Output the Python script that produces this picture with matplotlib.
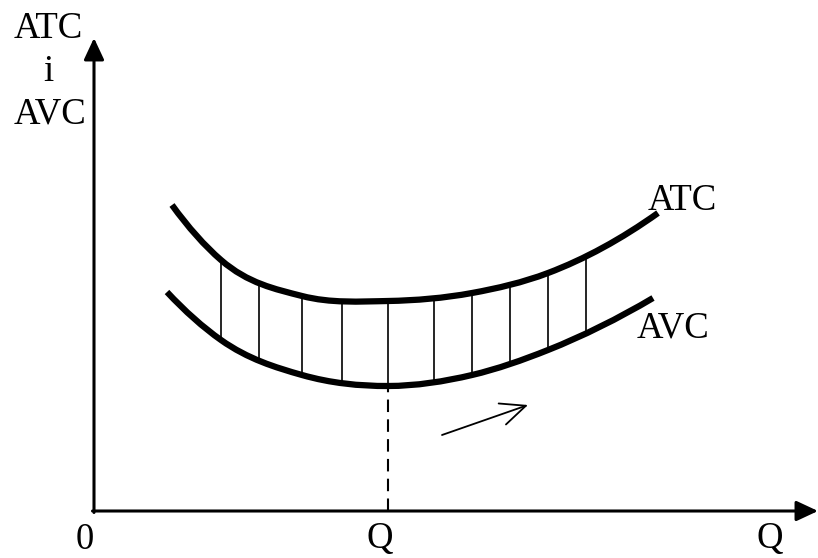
#!/usr/bin/env python3
"""
Short-run cost curves: ATC and AVC with the gap between them (AFC) hatched.
"""

import numpy as np
import matplotlib
matplotlib.use("Agg")
import matplotlib.pyplot as plt
from matplotlib.path import Path
from matplotlib.patches import PathPatch

# quantity / cost values (origin at the axes corner)
atc_q = [78, 127, 208, 294, 378, 454, 564]
atc_c = [306, 251, 215, 210, 218, 238, 298]

avc_q = [73, 127, 208, 294, 378, 454, 559]
avc_c = [219, 171, 136, 125, 136, 161, 213]

# vertical hatch lines between the two curves
hatch_q = [127, 165, 208, 248, 294, 340, 378, 416, 454, 492]

q_star = 294          # output at the AVC minimum
trend_start = (348, 76)
trend_end = (434, 106)

x_max = 724
y_max = 473


def smooth_path(xs, ys):
    """Hermite curve through the points in x, handed to matplotlib as Beziers"""
    xs = np.asarray(xs, float)
    ys = np.asarray(ys, float)
    slope = np.gradient(ys, xs, edge_order=2)
    verts = [(xs[0], ys[0])]
    codes = [Path.MOVETO]
    for i in range(len(xs) - 1):
        h = (xs[i + 1] - xs[i]) / 3
        verts += [(xs[i] + h, ys[i] + slope[i] * h),
                  (xs[i + 1] - h, ys[i + 1] - slope[i + 1] * h),
                  (xs[i + 1], ys[i + 1])]
        codes += [Path.CURVE4] * 3
    return Path(verts, codes)


def curve_at(path, q):
    """Read the height of a drawn curve at the given quantities"""
    t = np.linspace(0, 1, 40)
    pts = np.vstack([seg(t) for seg, _ in path.iter_bezier() if seg.degree > 0])
    return np.interp(q, pts[:, 0], pts[:, 1])


plt.rcParams['font.family'] = ['Liberation Serif', 'DejaVu Serif']

fig = plt.figure(figsize=(8.18, 5.58), dpi=100)
ax = fig.add_axes([0, 0, 1, 1])
ax.set_xlim(-94, 724)
ax.set_ylim(-47, 511)
ax.axis('off')

# axes with arrow heads
head = '-|>,head_length=0.6,head_width=0.28'
ax.annotate('', xy=(0, y_max), xytext=(0, -1.5),
            arrowprops=dict(arrowstyle=head, lw=2.2, color='black',
                            mutation_scale=22, shrinkA=0, shrinkB=0))
ax.annotate('', xy=(x_max, 0), xytext=(-1.5, 0),
            arrowprops=dict(arrowstyle=head, lw=2.2, color='black',
                            mutation_scale=22, shrinkA=0, shrinkB=0))

atc_path = smooth_path(atc_q, atc_c)
avc_path = smooth_path(avc_q, avc_c)

# hatch lines
hatch_top = curve_at(atc_path, hatch_q)
hatch_bot = curve_at(avc_path, hatch_q)
ax.vlines(hatch_q, hatch_bot, hatch_top, colors='black', lw=1.2)

# cost curves
for path in [atc_path, avc_path]:
    ax.add_patch(PathPatch(path, facecolor='none', edgecolor='black',
                           lw=4.5, capstyle='butt', joinstyle='round'))

# dashed line from AVC minimum down to the quantity axis
avc_min = curve_at(avc_path, q_star)
ax.plot([q_star, q_star], [0, avc_min], color='black', lw=1.5, ls=(0, (6, 3.5)))

# small direction arrow
ax.annotate('', xy=trend_end, xytext=trend_start,
            arrowprops=dict(arrowstyle='->,head_length=0.9,head_width=0.4',
                            lw=1.3, color='black', mutation_scale=20,
                            shrinkA=0, shrinkB=0))

fs = 26.5
ax.text(-46, 473, 'ATC', fontsize=fs, ha='center', va='baseline')
ax.text(-46, 430, 'i', fontsize=fs, ha='center', va='baseline')
ax.text(-44, 388, 'AVC', fontsize=fs, ha='center', va='baseline')

ax.text(554, 301, 'ATC', fontsize=fs, ha='left', va='baseline')
ax.text(543, 173, 'AVC', fontsize=fs, ha='left', va='baseline')

ax.text(-9, -38, '0', fontsize=fs, ha='center', va='baseline')
ax.text(286, -37, 'Q', fontsize=fs, ha='center', va='baseline')
ax.text(676, -37, 'Q', fontsize=fs, ha='center', va='baseline')

plt.savefig('out.png', dpi=100)
